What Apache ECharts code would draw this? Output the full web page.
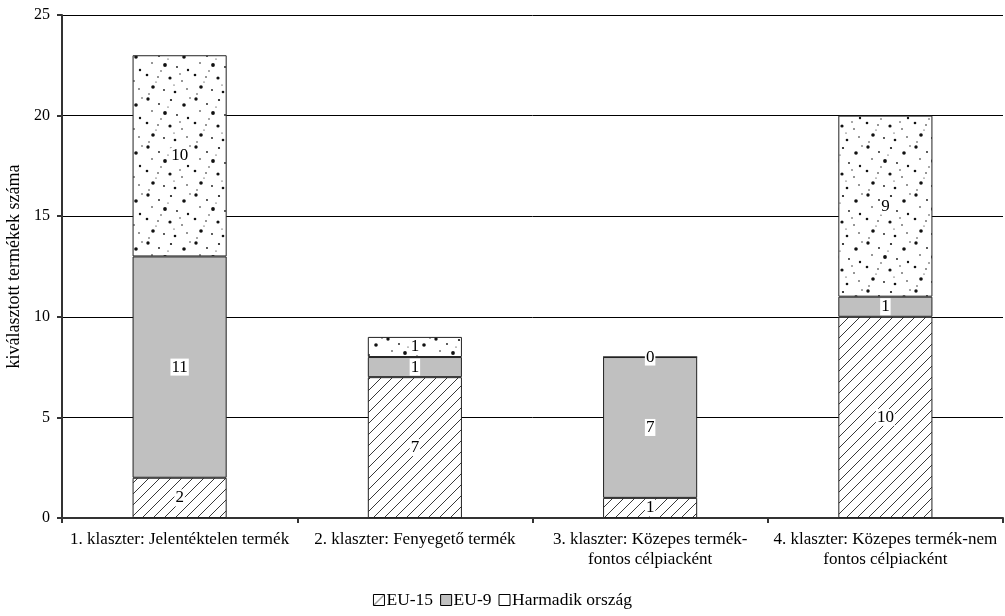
<!DOCTYPE html>
<html><head><meta charset="utf-8">
<script src="https://cdn.jsdelivr.net/npm/echarts@6/dist/echarts.min.js"></script>
<style>html,body{margin:0;padding:0;background:#fff}#c{width:1005px;height:616px}</style>
</head><body><div id="c"></div>
<script>
const categories = ['1. klaszter: Jelentéktelen termék', '2. klaszter: Fenyegető termék', '3. klaszter: Közepes termék-\nfontos célpiacként', '4. klaszter: Közepes termék-nem\nfontos célpiacként'];
const eu15 = [2, 7, 1, 10];
const eu9 = [11, 1, 7, 1];
const harmadik = [10, 1, 0, 9];
const seriesNames = ['EU-15', 'EU-9', 'Harmadik ország'];
const yTicks = {min: 0, max: 25, interval: 5};

function hatch() {
  const c = document.createElement('canvas'); c.width = 11; c.height = 11;
  const g = c.getContext('2d');
  g.fillStyle = '#fff'; g.fillRect(0, 0, 11, 11);
  g.strokeStyle = '#222'; g.lineWidth = 0.9;
  g.beginPath(); g.moveTo(-1, 12); g.lineTo(12, -1); g.stroke();
  return c;
}
function dots() {
  const c = document.createElement('canvas'); c.width = 48; c.height = 48;
  const g = c.getContext('2d');
  g.fillStyle = '#fff'; g.fillRect(0, 0, 48, 48);
  g.fillStyle = '#111';
  const pts = [[4,3,1.7],[15,8,0.9],[27,4,1.1],[40,9,1.8],[8,15,0.8],[21,17,1.9],[33,19,0.9],[44,22,1.2],[3,27,1.3],[14,29,0.8],[26,30,1.6],[38,33,0.8],[9,39,1.8],[20,42,0.9],[31,44,1.3],[43,41,0.8],[46,2,0.7],[36,26,0.7],[17,23,0.7],[5,46,0.7],[24,11,0.6],[30,37,0.6],[12,34,0.6]];
  pts.forEach(p => { g.beginPath(); g.arc(p[0], p[1], p[2], 0, Math.PI * 2); g.fill(); });
  return c;
}
const fills = [{image: hatch(), repeat: 'repeat'}, '#c0c0c0', {image: dots(), repeat: 'repeat'}];
const legendFills = [{image: hatch(), repeat: 'repeat'}, '#c0c0c0', '#fff'];
const datas = [eu15, eu9, harmadik];
const font = 'Liberation Serif';

const chart = echarts.init(document.getElementById('c'));
chart.setOption({
  animation: false,
  textStyle: {fontFamily: font},
  grid: {left: 62, right: 2, top: 15, bottom: 98, containLabel: false, outerBoundsMode: 'none'},
  legend: {
    bottom: 2, left: 'center', itemWidth: 11, itemHeight: 11, itemGap: 7,
    textStyle: {fontFamily: font, fontSize: 17.5, color: '#000', padding: [0, 0, 0, -3]},
    data: seriesNames.map((n, i) => ({name: n, icon: 'rect', itemStyle: {color: legendFills[i], borderColor: '#000', borderWidth: 1}}))
  },
  xAxis: {
    type: 'category', data: categories,
    axisLine: {lineStyle: {color: '#333', width: 2}},
    axisTick: {show: true, length: 5, lineStyle: {color: '#333', width: 2}},
    axisLabel: {fontFamily: font, fontSize: 17, color: '#000', margin: 12, lineHeight: 20, interval: 0}
  },
  yAxis: {
    type: 'value', min: yTicks.min, max: yTicks.max, interval: yTicks.interval,
    name: 'kiválasztott termékek száma', nameLocation: 'middle', nameGap: 39, nameRotate: 90,
    nameTextStyle: {fontFamily: font, fontSize: 18, color: '#000'},
    axisLine: {show: true, lineStyle: {color: '#333', width: 2}},
    axisTick: {show: true, length: 5, lineStyle: {color: '#333', width: 2}},
    axisLabel: {fontFamily: font, fontSize: 16, color: '#000', margin: 12},
    splitLine: {lineStyle: {color: '#000', width: 1}}
  },
  series: seriesNames.map((n, i) => ({
    name: n, type: 'bar', stack: 'a', data: datas[i], barWidth: '40%',
    itemStyle: {color: fills[i], borderColor: '#222', borderWidth: 1},
    label: {show: true, position: 'inside', fontFamily: font, fontSize: 17, color: '#000', backgroundColor: '#fff', padding: [0, 1, 0, 1]}
  }))
});
</script></body></html>
